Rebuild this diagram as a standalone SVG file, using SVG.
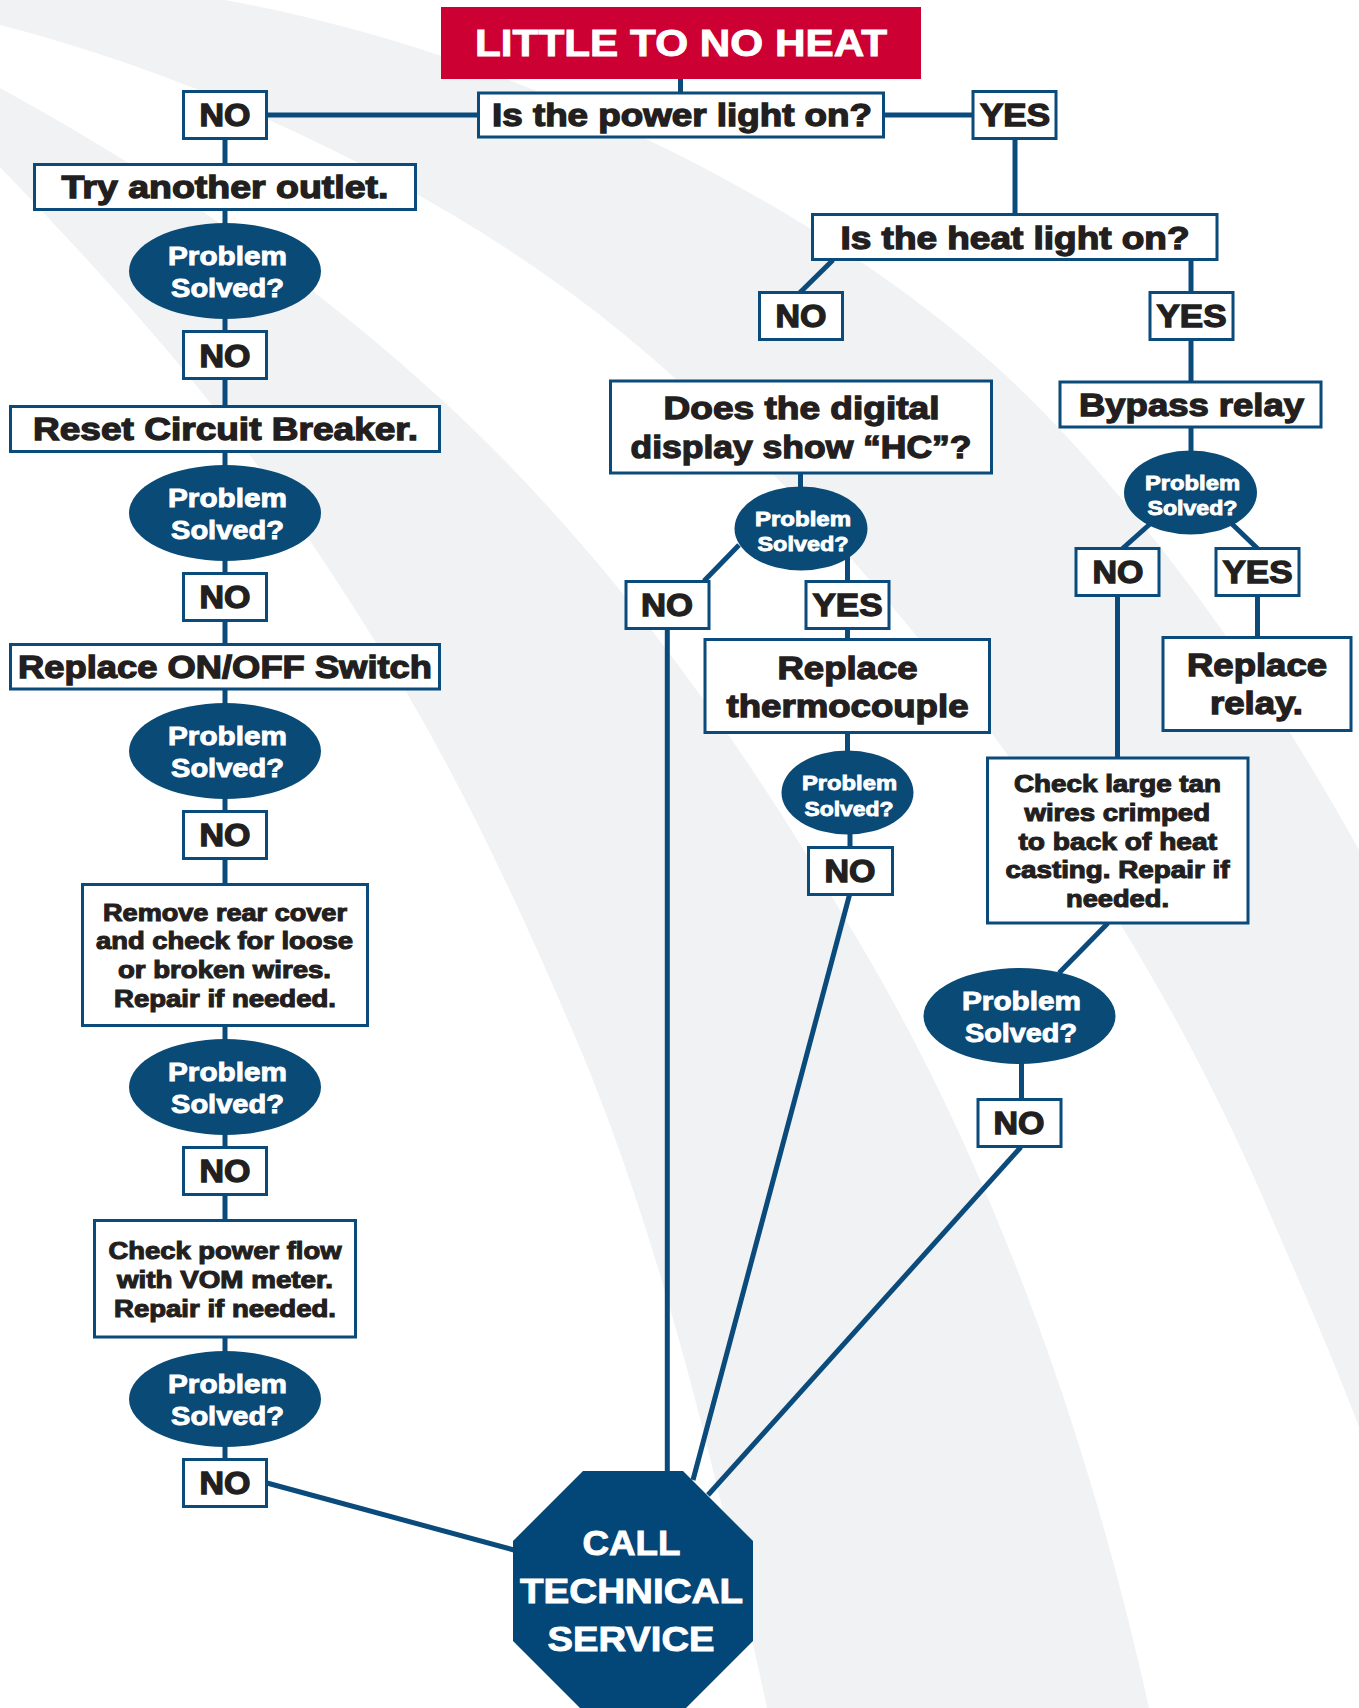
<svg xmlns="http://www.w3.org/2000/svg" width="1359" height="1708" viewBox="0 0 1359 1708">
<style>
text{font-family:"Liberation Sans",Arial,sans-serif;font-weight:700;fill:#231f20;stroke:#231f20;stroke-width:1.3px}
.w{fill:#fff;stroke:#fff;stroke-width:.9px}
.s32{font-size:32px}.s30{font-size:31px}.s24{font-size:24px;stroke-width:1.1px}.s25{font-size:25px}.s21{font-size:21px}.s35{font-size:35px}.s37{font-size:37.5px}
rect.b{fill:#fff;stroke:#0a4b7c;stroke-width:3}
ellipse{fill:#0a4a77}
.c line{stroke:#0a4b7c;stroke-width:5}
.bg{fill:#f1f2f4}
</style>
<rect width="1359" height="1708" fill="#fff"/>
<g id="background">
<path class="bg" d="M225,0 C500,50 800,190 1000,370 C1130,490 1260,670 1359,850 L1359,1427 C1330,1350 1295,1272 1264,1200 C1190,1030 1105,890 1007,754 C910,620 800,494 680,383 C560,272 420,188 269,120 C180,80 90,48 0,25 L0,0 Z"/>
<path class="bg" d="M0,88 C150,170 300,270 442,400 C590,535 730,720 847,922 C950,1090 1070,1350 1149,1708 L767,1708 C720,1490 670,1270 585,1060 C530,930 475,810 408,695 C345,590 275,485 208,400 C140,315 70,240 0,167 Z"/>
</g>
<g id="connectors" class="c">
<line x1="680.5" y1="78" x2="680.5" y2="93"/>
<line x1="267" y1="115" x2="478" y2="115"/>
<line x1="884" y1="115" x2="973" y2="115"/>
<line x1="225" y1="138" x2="225" y2="165"/>
<line x1="225" y1="209" x2="225" y2="224"/>
<line x1="225" y1="318" x2="225" y2="332"/>
<line x1="225" y1="378" x2="225" y2="407"/>
<line x1="225" y1="451" x2="225" y2="466"/>
<line x1="225" y1="560" x2="225" y2="574"/>
<line x1="225" y1="620" x2="225" y2="645"/>
<line x1="225" y1="688" x2="225" y2="704"/>
<line x1="225" y1="798" x2="225" y2="812"/>
<line x1="225" y1="858" x2="225" y2="885"/>
<line x1="225" y1="1025" x2="225" y2="1040"/>
<line x1="225" y1="1134" x2="225" y2="1148"/>
<line x1="225" y1="1194" x2="225" y2="1221"/>
<line x1="225" y1="1336" x2="225" y2="1352"/>
<line x1="225" y1="1446" x2="225" y2="1460"/>
<line x1="267" y1="1483" x2="514" y2="1550"/>
<line x1="1015" y1="138" x2="1015" y2="215"/>
<line x1="833" y1="260" x2="799.5" y2="293"/>
<line x1="1191" y1="259" x2="1191" y2="293"/>
<line x1="1191" y1="339" x2="1191" y2="383"/>
<line x1="1191" y1="427" x2="1191" y2="452"/>
<line x1="1150" y1="524" x2="1122" y2="549"/>
<line x1="1232" y1="524" x2="1258" y2="549"/>
<line x1="1117.5" y1="595" x2="1117.5" y2="759"/>
<line x1="1257.5" y1="595" x2="1257.5" y2="638"/>
<line x1="800.5" y1="472" x2="800.5" y2="488"/>
<line x1="739" y1="545" x2="704" y2="581"/>
<line x1="847.5" y1="555" x2="847.5" y2="582"/>
<line x1="847.5" y1="628" x2="847.5" y2="640"/>
<line x1="847.5" y1="732" x2="847.5" y2="753"/>
<line x1="850" y1="832" x2="850" y2="848"/>
<line x1="667.3" y1="628" x2="667.3" y2="1473"/>
<line x1="850" y1="893" x2="693" y2="1480"/>
<line x1="1108" y1="923" x2="1059" y2="973"/>
<line x1="1021.5" y1="1062" x2="1021.5" y2="1100"/>
<line x1="1021" y1="1147" x2="708" y2="1495"/>
</g>
<g id="title"><rect x="441" y="7" width="480" height="72" fill="#cc0033"/><text class="w s37" x="475" y="56" textLength="412" lengthAdjust="spacingAndGlyphs">LITTLE TO NO HEAT</text></g>
<g id="q-power"><rect class="b" x="478.5" y="93" width="405" height="44"/><text class="s30" x="492" y="126" textLength="380" lengthAdjust="spacingAndGlyphs">Is the power light on?</text></g>
<g id="no-1"><rect class="b" x="183.5" y="91.5" width="83" height="47"/><text class="s30" x="199.5" y="126" textLength="51" lengthAdjust="spacingAndGlyphs">NO</text></g>
<g id="yes-1"><rect class="b" x="973" y="91.5" width="83" height="47"/><text class="s30" x="980" y="126" textLength="70" lengthAdjust="spacingAndGlyphs">YES</text></g>
<g id="try"><rect class="b" x="34.5" y="164.5" width="381" height="45"/><text class="s32" x="61.5" y="198" textLength="327" lengthAdjust="spacingAndGlyphs">Try another outlet.</text></g>
<g id="solved-1"><ellipse cx="225" cy="271" rx="96" ry="48"/><text class="w s25" x="168" y="265" textLength="119" lengthAdjust="spacingAndGlyphs">Problem</text><text class="w s25" x="171" y="297" textLength="113" lengthAdjust="spacingAndGlyphs">Solved?</text></g>
<g id="no-2"><rect class="b" x="183.5" y="331.5" width="83" height="47"/><text class="s30" x="199.5" y="366.5" textLength="51" lengthAdjust="spacingAndGlyphs">NO</text></g>
<g id="reset"><rect class="b" x="10.5" y="406.5" width="429" height="45"/><text class="s32" x="33" y="440" textLength="385" lengthAdjust="spacingAndGlyphs">Reset Circuit Breaker.</text></g>
<g id="solved-2"><ellipse cx="225" cy="513" rx="96" ry="48"/><text class="w s25" x="168" y="507" textLength="119" lengthAdjust="spacingAndGlyphs">Problem</text><text class="w s25" x="171" y="539" textLength="113" lengthAdjust="spacingAndGlyphs">Solved?</text></g>
<g id="no-3"><rect class="b" x="183.5" y="573.5" width="83" height="47"/><text class="s30" x="199.5" y="607.5" textLength="51" lengthAdjust="spacingAndGlyphs">NO</text></g>
<g id="switch"><rect class="b" x="10.5" y="644.5" width="429" height="44.5"/><text class="s32" x="18" y="678" textLength="414" lengthAdjust="spacingAndGlyphs">Replace ON/OFF Switch</text></g>
<g id="solved-3"><ellipse cx="225" cy="751" rx="96" ry="48"/><text class="w s25" x="168" y="745" textLength="119" lengthAdjust="spacingAndGlyphs">Problem</text><text class="w s25" x="171" y="777" textLength="113" lengthAdjust="spacingAndGlyphs">Solved?</text></g>
<g id="no-4"><rect class="b" x="183.5" y="811.5" width="83" height="47"/><text class="s30" x="199.5" y="845.5" textLength="51" lengthAdjust="spacingAndGlyphs">NO</text></g>
<g id="rear-cover"><rect class="b" x="82.5" y="884.5" width="285" height="141"/>
<text class="s24" x="103" y="920.5" textLength="244" lengthAdjust="spacingAndGlyphs">Remove rear cover</text>
<text class="s24" x="96" y="949" textLength="257" lengthAdjust="spacingAndGlyphs">and check for loose</text>
<text class="s24" x="118" y="978" textLength="213" lengthAdjust="spacingAndGlyphs">or broken wires.</text>
<text class="s24" x="114" y="1007" textLength="222" lengthAdjust="spacingAndGlyphs">Repair if needed.</text></g>
<g id="solved-4"><ellipse cx="225" cy="1087" rx="96" ry="48"/><text class="w s25" x="168" y="1081" textLength="119" lengthAdjust="spacingAndGlyphs">Problem</text><text class="w s25" x="171" y="1113" textLength="113" lengthAdjust="spacingAndGlyphs">Solved?</text></g>
<g id="no-5"><rect class="b" x="183.5" y="1147.5" width="83" height="47"/><text class="s30" x="199.5" y="1182" textLength="51" lengthAdjust="spacingAndGlyphs">NO</text></g>
<g id="power-flow"><rect class="b" x="94.5" y="1220.5" width="261" height="116.5"/>
<text class="s24" x="108.5" y="1259" textLength="233" lengthAdjust="spacingAndGlyphs">Check power flow</text>
<text class="s24" x="117" y="1288" textLength="216" lengthAdjust="spacingAndGlyphs">with VOM meter.</text>
<text class="s24" x="114" y="1316.5" textLength="222" lengthAdjust="spacingAndGlyphs">Repair if needed.</text></g>
<g id="solved-5"><ellipse cx="225" cy="1399" rx="96" ry="48"/><text class="w s25" x="168" y="1393" textLength="119" lengthAdjust="spacingAndGlyphs">Problem</text><text class="w s25" x="171" y="1425" textLength="113" lengthAdjust="spacingAndGlyphs">Solved?</text></g>
<g id="no-6"><rect class="b" x="183.5" y="1459.5" width="83" height="47"/><text class="s30" x="199.5" y="1494" textLength="51" lengthAdjust="spacingAndGlyphs">NO</text></g>
<g id="q-heat"><rect class="b" x="812.5" y="214.5" width="404.5" height="45"/><text class="s30" x="840.5" y="249" textLength="349" lengthAdjust="spacingAndGlyphs">Is the heat light on?</text></g>
<g id="no-heat"><rect class="b" x="759.5" y="292.5" width="83" height="47"/><text class="s30" x="775.5" y="327" textLength="51" lengthAdjust="spacingAndGlyphs">NO</text></g>
<g id="yes-heat"><rect class="b" x="1150" y="292.5" width="83" height="47"/><text class="s30" x="1156.5" y="327" textLength="70" lengthAdjust="spacingAndGlyphs">YES</text></g>
<g id="q-hc"><rect class="b" x="610.5" y="381" width="381" height="92"/><text class="s32" x="663.5" y="418.5" textLength="276" lengthAdjust="spacingAndGlyphs">Does the digital</text><text class="s32" x="630.5" y="458" textLength="341" lengthAdjust="spacingAndGlyphs">display show “HC”?</text></g>
<g id="solved-m1"><ellipse cx="801" cy="528.5" rx="66.5" ry="42"/><text class="w s21" x="755" y="526" textLength="96" lengthAdjust="spacingAndGlyphs">Problem</text><text class="w s21" x="757.5" y="550.5" textLength="91" lengthAdjust="spacingAndGlyphs">Solved?</text></g>
<g id="no-m1"><rect class="b" x="626" y="581.5" width="83" height="47"/><text class="s30" x="641" y="616" textLength="52" lengthAdjust="spacingAndGlyphs">NO</text></g>
<g id="yes-m1"><rect class="b" x="806" y="581.5" width="83" height="47"/><text class="s30" x="812.5" y="616" textLength="70" lengthAdjust="spacingAndGlyphs">YES</text></g>
<g id="thermocouple"><rect class="b" x="705" y="639.5" width="284.5" height="93"/><text class="s32" x="777.5" y="678.5" textLength="140" lengthAdjust="spacingAndGlyphs">Replace</text><text class="s32" x="726.5" y="716.5" textLength="242" lengthAdjust="spacingAndGlyphs">thermocouple</text></g>
<g id="solved-m2"><ellipse cx="847.5" cy="792.5" rx="66" ry="42"/><text class="w s21" x="802" y="790" textLength="95" lengthAdjust="spacingAndGlyphs">Problem</text><text class="w s21" x="804.5" y="815.5" textLength="89" lengthAdjust="spacingAndGlyphs">Solved?</text></g>
<g id="no-m2"><rect class="b" x="808.5" y="847.5" width="84" height="47"/><text class="s30" x="824.5" y="882" textLength="51" lengthAdjust="spacingAndGlyphs">NO</text></g>
<g id="bypass"><rect class="b" x="1060" y="382" width="261" height="45"/><text class="s32" x="1079" y="416" textLength="225" lengthAdjust="spacingAndGlyphs">Bypass relay</text></g>
<g id="solved-r1"><ellipse cx="1190.5" cy="492.5" rx="66.5" ry="42"/><text class="w s21" x="1145" y="490" textLength="95" lengthAdjust="spacingAndGlyphs">Problem</text><text class="w s21" x="1147.5" y="514.5" textLength="90" lengthAdjust="spacingAndGlyphs">Solved?</text></g>
<g id="no-r1"><rect class="b" x="1076" y="548.5" width="83" height="47"/><text class="s30" x="1092.5" y="583" textLength="51" lengthAdjust="spacingAndGlyphs">NO</text></g>
<g id="yes-r1"><rect class="b" x="1216" y="548.5" width="83" height="47"/><text class="s30" x="1222.5" y="583" textLength="70" lengthAdjust="spacingAndGlyphs">YES</text></g>
<g id="replace-relay"><rect class="b" x="1163" y="637.5" width="188" height="93"/><text class="s32" x="1187" y="675.5" textLength="140" lengthAdjust="spacingAndGlyphs">Replace</text><text class="s32" x="1210" y="714" textLength="93" lengthAdjust="spacingAndGlyphs">relay.</text></g>
<g id="tan-wires"><rect class="b" x="987.5" y="758" width="260.5" height="165"/>
<text class="s24" x="1014" y="792" textLength="207" lengthAdjust="spacingAndGlyphs">Check large tan</text>
<text class="s24" x="1024.5" y="820.5" textLength="185.5" lengthAdjust="spacingAndGlyphs">wires crimped</text>
<text class="s24" x="1018.5" y="849.5" textLength="198.5" lengthAdjust="spacingAndGlyphs">to back of heat</text>
<text class="s24" x="1005.5" y="878" textLength="224" lengthAdjust="spacingAndGlyphs">casting. Repair if</text>
<text class="s24" x="1066" y="907" textLength="103" lengthAdjust="spacingAndGlyphs">needed.</text></g>
<g id="solved-r2"><ellipse cx="1019.5" cy="1016" rx="96" ry="48"/><text class="w s25" x="962" y="1010" textLength="119" lengthAdjust="spacingAndGlyphs">Problem</text><text class="w s25" x="965" y="1042" textLength="112" lengthAdjust="spacingAndGlyphs">Solved?</text></g>
<g id="no-r2"><rect class="b" x="978" y="1099.5" width="83" height="47"/><text class="s30" x="993.5" y="1133.5" textLength="51" lengthAdjust="spacingAndGlyphs">NO</text></g>
<g id="call"><polygon points="583,1471 683,1471 753,1541 753,1641 683,1711 583,1711 513,1641 513,1541" fill="#034678"/>
<text class="w s35" x="582.5" y="1555" textLength="98" lengthAdjust="spacingAndGlyphs">CALL</text>
<text class="w s35" x="520" y="1603" textLength="223" lengthAdjust="spacingAndGlyphs">TECHNICAL</text>
<text class="w s35" x="547.5" y="1651" textLength="167" lengthAdjust="spacingAndGlyphs">SERVICE</text></g>
</svg>
